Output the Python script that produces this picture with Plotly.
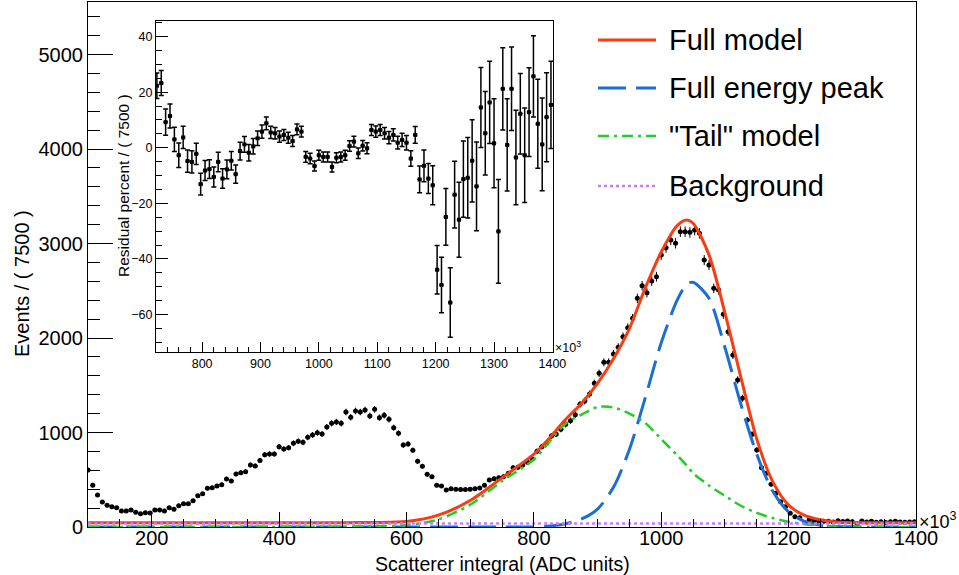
import numpy as np
import plotly.graph_objects as go

W, H = 959, 575
FONT = "Liberation Sans"

# ---------------- histogram (bin width 7.5 x10^3 ADC units) ----------------
bin_width = 7.5
bin_start = 100.0
counts = [
    603, 441, 339, 265, 229, 215, 204, 169, 169, 180,
    155, 141, 152, 148, 180, 180, 169, 204, 187, 226,
    247, 247, 279, 332, 352, 409, 416, 434, 448, 508,
    487, 561, 575, 586, 656, 646, 705, 765, 772, 772,
    850, 825, 839, 886, 907, 896, 949, 974, 998, 984,
    1058, 1097, 1111, 1097, 1217, 1161, 1228, 1217, 1238, 1175,
    1245, 1157, 1182, 1140, 1051, 991, 868, 878, 812, 695,
    642, 558, 532, 441, 434, 392, 405, 400, 398, 398,
    400, 406, 413, 441, 497, 511, 522, 532, 568, 628,
    632, 656, 684, 720, 801, 850, 886, 963, 981, 1034,
    1087, 1125, 1189, 1298, 1333, 1407, 1520, 1626, 1743, 1743,
    1831, 1901, 2014, 2109, 2208, 2420, 2553, 2479, 2603, 2649,
    2878, 2956, 3037, 3002, 3125, 3125, 3118, 3143, 3108, 2825,
    2772, 2526, 2508, 2251, 2067, 1820, 1556, 1362, 1132, 981,
    815, 628, 568, 452, 357, 268, 215, 145, 109, 98,
    48, 79, 63, 67, 61, 60, 52, 65, 59, 64,
    55, 37, 63, 52, 62, 49, 56, 48, 56, 62,
    53, 49, 53, 55,
]
bin_centres = bin_start + bin_width * np.arange(len(counts))
count_err = np.sqrt(np.array(counts, dtype=float))

# ---------------- fitted model components ----------------
model_x = [100, 200, 300, 400, 500, 550, 600, 650, 700, 750, 800, 825, 850, 875,
           900, 925, 950, 975, 1000, 1025, 1040, 1050, 1075, 1100, 1125, 1150,
           1175, 1200, 1225, 1250, 1275, 1300, 1350, 1400]
full_model = [44, 44, 44, 45, 46, 48, 58, 125, 280, 520, 770, 945, 1140, 1310,
              1520, 1780, 2100, 2530, 2910, 3190, 3248, 3215, 2880, 2265, 1585, 930,
              480, 232, 122, 76, 54, 48, 45, 44]
peak_model = [0, 0, 0, 0, 0, 0, 0, 0, 0, 0, 0, 10, 35, 85,
              190, 420, 820, 1370, 1950, 2400, 2570, 2590, 2420, 1900, 1300, 770,
              380, 160, 60, 20, 6, 2, 0, 0]
tail_model = [0, 0, 0, 1, 4, 8, 20, 80, 235, 485, 715, 905, 1095, 1190,
              1270, 1265, 1200, 1100, 930, 760, 650, 570, 440, 330, 225, 150,
              95, 55, 30, 16, 8, 4, 1, 0]
background = [38] * len(model_x)

# ---------------- residuals (percent) ----------------
resid_start = 722.5
residual = [
    22.3, 23.3, 9.2, 11.4, 3.0, -2.7, 3.7, -4.8, -5.1, -2.2,
    -13.1, -8.2, -7.7, -10.5, -5.1, -11.1, -7.8, -4.7, -9.5, -1.2,
    1.2, -1.8, 0.5, 3.4, 5.8, 8.8, 5.5, 5.2, 4.0, 4.6,
    3.6, 2.4, 6.6, 5.8, -3.3, -3.9, -6.6, -2.7, -3.3, -3.3,
    -6.9, -3.6, -3.3, -2.7, 0.6, 2.2, -2.0, 0.7, -0.2, 6.4,
    5.8, 6.4, 5.2, 3.6, 4.6, 1.8, 2.8, 1.8, -3.9, 4.6,
    -11.4, -6.5, -11.1, -13.5, -43.9, -49.4, -24.9, -55.7, -16.9, -25.9,
    -11.3, -10.8, -4.7, -13.9, 14.5, 5.2, 16.3, 1.6, -30.1, 21.2,
    1.0, 21.2, -3.5, 12.2, -2.7, 12.8, 25.7, 8.6, 1.2, 11.0,
    15.4,
]
residual_err = [
    4.6, 4.5, 4.7, 4.3, 4.4, 4.4, 4.0, 4.0, 4.0, 3.8,
    3.9, 3.6, 3.4, 3.6, 3.5, 3.5, 3.4, 3.3, 3.3, 3.2,
    2.8, 3.0, 2.8, 2.6, 2.4, 2.3, 2.2, 2.1, 2.0, 2.0,
    2.0, 2.0, 1.9, 1.9, 1.9, 1.9, 1.8, 1.8, 1.8, 1.8,
    1.8, 1.8, 1.8, 1.8, 1.9, 1.9, 1.9, 1.9, 2.0, 2.0,
    2.0, 2.0, 2.1, 2.2, 2.2, 2.3, 2.4, 2.6, 2.8, 3.0,
    4.8, 5.7, 5.4, 7.0, 8.7, 10.0, 10.2, 12.5, 12.0, 13.5,
    13.7, 14.5, 14.8, 16.0, 14.4, 15.0, 14.8, 16.0, 18.7, 14.8,
    16.6, 15.0, 17.0, 14.5, 17.0, 16.0, 14.6, 16.0, 16.7, 16.0,
    15.7,
]
resid_x = resid_start + bin_width * np.arange(len(residual))

# ---------------- styles ----------------
RED = "#f93d12"
BLUE = "#1b6fd3"
GREEN = "#25cc25"
PURPLE = "#c77cff"

legend_items = [
    ("Full model", RED, "solid", 3),
    ("Full energy peak", BLUE, "28px,10px", 3),
    ("\"Tail\" model", GREEN, "11px,5px,3px,5px", 2.5),
    ("Background", PURPLE, "3px,3px", 2.5),
]


def px(x):
    return x / W


def py(y):
    return 1 - y / H


fig = go.Figure()

# data histogram
fig.add_trace(go.Scatter(
    x=bin_centres, y=counts, mode="markers",
    marker=dict(color="black", size=5, symbol="circle"),
    error_y=dict(type="data", array=count_err, color="black", thickness=1, width=0),
    error_x=dict(type="constant", value=bin_width / 2, color="black", thickness=1, width=0),
    xaxis="x", yaxis="y", showlegend=False,
))

for (label, col, dash, w), yv in zip(legend_items, [full_model, peak_model, tail_model, background]):
    fig.add_trace(go.Scatter(
        x=model_x, y=yv, mode="lines", name=label,
        line=dict(color=col, dash=dash, width=w, shape="spline", smoothing=0.8),
        xaxis="x", yaxis="y", showlegend=False,
    ))

# residual inset
fig.add_trace(go.Scatter(
    x=resid_x, y=residual, mode="markers",
    marker=dict(color="black", size=4, symbol="square"),
    error_y=dict(type="data", array=residual_err, color="black", thickness=1.5, width=2.5),
    error_x=dict(type="constant", value=bin_width / 2, color="black", thickness=1.5, width=0),
    xaxis="x2", yaxis="y2", showlegend=False,
))

axis_common = dict(
    showgrid=False, zeroline=False, showline=True, mirror=True, automargin=False,
    linecolor="black", linewidth=1, ticks="inside", tickcolor="black",
    tickwidth=1, color="black",
)

fig.update_layout(
    template="none",
    width=W, height=H, autosize=False,
    margin=dict(l=0, r=0, t=0, b=0, pad=0, autoexpand=False),
    paper_bgcolor="white", plot_bgcolor="white",
    font=dict(family=FONT, color="black"),
    xaxis=dict(
        **axis_common, domain=[px(88), px(916)], range=[100, 1400], anchor="y",
        dtick=200, tick0=0, ticklen=15, tickformat="d", ticklabelstandoff=-7,
        tickfont=dict(family=FONT, size=20, color="black"),
        minor=dict(dtick=50, tick0=0, ticks="inside", ticklen=8,
                   tickcolor="black", tickwidth=1, showgrid=False),
    ),
    yaxis=dict(
        **axis_common, domain=[py(527), py(2)], range=[0, 5556], anchor="x",
        dtick=1000, tick0=0, ticklen=25, tickformat="d",
        tickfont=dict(family=FONT, size=20, color="black"),
        minor=dict(dtick=200, tick0=0, ticks="inside", ticklen=12,
                   tickcolor="black", tickwidth=1, showgrid=False),
    ),
    xaxis2=dict(
        **axis_common, domain=[px(156), px(553)], range=[721, 1401], anchor="y2",
        dtick=100, tick0=0, ticklen=10, tickformat="d",
        tickfont=dict(family=FONT, size=12.5, color="black"),
        minor=dict(dtick=20, tick0=0, ticks="inside", ticklen=5,
                   tickcolor="black", tickwidth=1, showgrid=False),
    ),
    yaxis2=dict(
        **axis_common, domain=[py(352), py(21)], range=[-73.5, 45.6], anchor="x2",
        dtick=20, tick0=0, ticklen=12, tickformat="d",
        tickfont=dict(family=FONT, size=12.5, color="black"),
        minor=dict(dtick=5, tick0=0, ticks="inside", ticklen=6,
                   tickcolor="black", tickwidth=1, showgrid=False),
    ),
)

shapes = []
annotations = []

# legend drawn as line samples with labels
leg_y = [40, 88, 136, 186]
for (label, col, dash, w), yy in zip(legend_items, leg_y):
    shapes.append(dict(type="line", xref="paper", yref="paper",
                       x0=px(598), x1=px(656), y0=py(yy), y1=py(yy),
                       line=dict(color=col, dash=dash, width=w)))
    annotations.append(dict(text=label, xref="paper", yref="paper",
                            x=px(667), y=py(yy), xanchor="left", yanchor="middle",
                            showarrow=False, font=dict(family=FONT, size=29, color="black")))

# axis titles and exponent labels
annotations += [
    dict(text="Scatterer integral (ADC units)", xref="paper", yref="paper",
         x=px(502), y=py(564), xanchor="center", yanchor="middle", showarrow=False,
         font=dict(family=FONT, size=19.5, color="black")),
    dict(text="Events / ( 7500 )", xref="paper", yref="paper", textangle=-90,
         x=px(22), y=py(284), xanchor="center", yanchor="middle", showarrow=False,
         font=dict(family=FONT, size=20, color="black")),
    dict(text="Residual percent / ( 7500 )", xref="paper", yref="paper", textangle=-90,
         x=px(123), y=py(186), xanchor="center", yanchor="middle", showarrow=False,
         font=dict(family=FONT, size=15.5, color="black")),
    dict(text="\u00d710<sup>3</sup>", xref="paper", yref="paper",
         x=px(917), y=py(520), xanchor="left", yanchor="middle", showarrow=False,
         font=dict(family=FONT, size=18, color="black")),
    dict(text="\u00d710<sup>3</sup>", xref="paper", yref="paper",
         x=px(553), y=py(347), xanchor="left", yanchor="middle", showarrow=False,
         font=dict(family=FONT, size=12.5, color="black")),
]

fig.update_layout(shapes=shapes, annotations=annotations)
fig.write_html(
    "out.html",
    post_script="document.body.style.margin='0';document.body.style.overflow='hidden';",
)
